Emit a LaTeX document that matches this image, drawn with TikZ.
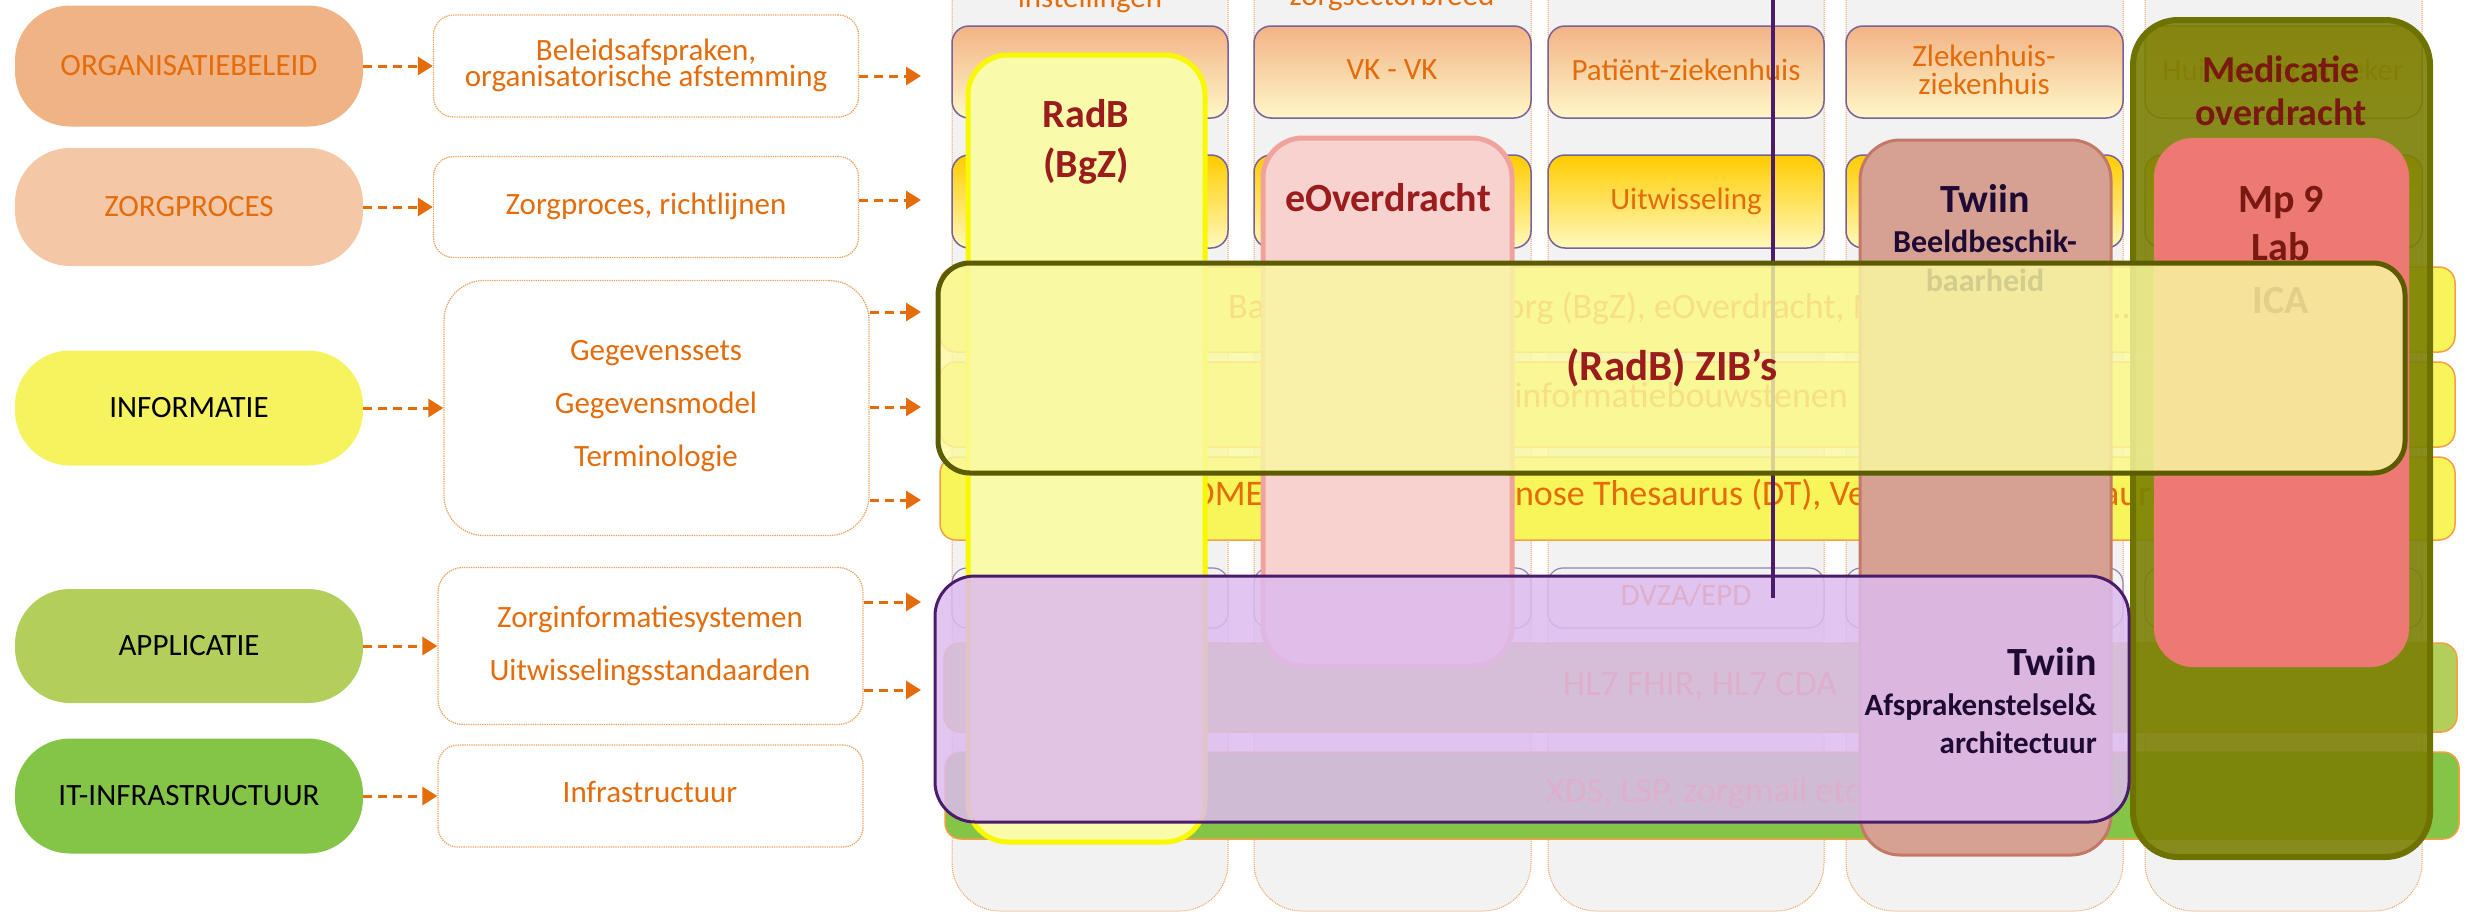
\documentclass[tikz,border=0pt]{standalone}
\usepackage{fontspec}
\setmainfont{Carlito}
\usetikzlibrary{arrows.meta}
\definecolor{otxt}{HTML}{E46C0A}
\definecolor{pillA}{HTML}{F0B385}
\definecolor{pillB}{HTML}{F4C8A6}
\definecolor{pillC}{HTML}{F6F45E}
\definecolor{pillD}{HTML}{B3CF5B}
\definecolor{pillE}{HTML}{84C446}
\definecolor{boxline}{HTML}{F2A25E}
\definecolor{colgrey}{HTML}{F2F2F2}
\definecolor{rowline}{HTML}{7A6299}
\definecolor{rowAtop}{HTML}{F2B385}
\definecolor{rowAbot}{HTML}{FFF7C8}
\definecolor{rowBtop}{HTML}{FFCC00}
\definecolor{rowBbot}{HTML}{FFF9BC}
\definecolor{bandyel}{HTML}{F8F55A}
\definecolor{bandline}{HTML}{F5A040}
\definecolor{radbfill}{HTML}{FAFBAA}
\definecolor{radbline}{HTML}{F8F800}
\definecolor{eofill}{HTML}{F8D2CF}
\definecolor{eoline}{HTML}{F0A39D}
\definecolor{bbfill}{HTML}{D6A193}
\definecolor{bbline}{HTML}{C47868}
\definecolor{medfill}{HTML}{7B8004}
\definecolor{medline}{HTML}{6E7300}
\definecolor{mpfill}{HTML}{EC7A72}
\definecolor{zibfill}{HTML}{FAF9A2}
\definecolor{zibline}{HTML}{5B5B00}
\definecolor{twfill}{HTML}{DDBBEE}
\definecolor{twline}{HTML}{4A1C6A}
\definecolor{darkred}{HTML}{9A1C1C}
\definecolor{medtxt}{HTML}{7A1812}
\definecolor{twtxt}{HTML}{1E0A32}
\definecolor{vline}{HTML}{4B1C6B}
\newcommand{\pxfont}[1]{\fontsize{#1pt}{#1pt}\selectfont}
\tikzset{
  pill/.style={rounded corners=55pt, inner sep=0pt, minimum width=348pt, font=\pxfont{31}},
  mbox/.style={draw=boxline, densely dotted, line width=1.3pt, fill=white, inner sep=0pt, minimum width=425pt},
  mtxt/.style={anchor=base, inner sep=0pt, text=otxt, font=\pxfont{31}},
  darr/.style={draw=otxt, line width=3pt, dash pattern=on 9pt off 6pt, -{Triangle[length=15pt,width=18pt]}},
  colbox/.style={fill=colgrey, draw=boxline, densely dotted, line width=1pt, rounded corners=48pt},
  rowA/.style={draw=rowline, line width=1.5pt, top color=rowAtop, bottom color=rowAbot, rounded corners=17pt},
  rowB/.style={draw=rowline, line width=1.5pt, top color=rowBtop, bottom color=rowBbot, rounded corners=17pt},
  rowC/.style={draw=rowline!80, line width=1.2pt, fill=colgrey, rounded corners=15pt},
  band/.style={draw=bandline, line width=1.5pt, rounded corners=16pt},
  rtxt/.style={anchor=base, inner sep=0pt, text=otxt, font=\pxfont{31}},
  btxt/.style={inner sep=0pt, text=otxt, font=\pxfont{36}},
  ovtitle/.style={anchor=base, inner sep=0pt, text=darkred, font=\bfseries\pxfont{40}},
  ovsub/.style={anchor=base, inner sep=0pt, text=twtxt, font=\bfseries\pxfont{31}},
}
\begin{document}
\begin{tikzpicture}[x=1pt,y=-1pt]
\useasboundingbox (0,0) rectangle (2478,913);
\fill[white] (0,0) rectangle (2478,913);

% ---------- columns ----------
\foreach \a/\b in {952/1228, 1254/1531, 1548/1824, 1846/2123, 2145/2422}
  \draw[colbox] (\a,-60) rectangle (\b,911);
\node[rtxt] (hd1) at (1090,7) {instellingen};
\node[rtxt] (hd2) at (1392,5) {zorgsectorbreed};

% ---------- row boxes ----------
\foreach \a/\b in {952/1228, 1254/1531, 1548/1824, 1846/2123, 2145/2422}{
  \draw[rowA] (\a,26) rectangle (\b,118);
  \draw[rowB] (\a,155) rectangle (\b,248);
  \draw[rowC] (\a,568) rectangle (\b,628);
}
\node[rtxt] (vk) at (1392,79) {VK - VK};
\node[rtxt] (pz) at (1686,80) {Patiënt-ziekenhuis};
\node[rtxt] (zz1) at (1984,66) {Zlekenhuis-};
\node[rtxt] (zz2) at (1984,94) {ziekenhuis};
\node[rtxt] (ha) at (2283,80) {Huisarts-apotheker};
\node[rtxt] (uw) at (1686,209) {Uitwisseling};
\node[rtxt] (dv) at (1686,605) {DVZA/EPD};

% ---------- bands ----------
\draw[band, fill=bandyel] (940,267) rectangle (2455,352);
\draw[band, fill=bandyel] (940,362) rectangle (2455,447);
\draw[band, fill=bandyel] (940,457) rectangle (2455,540);
\draw[band, fill=pillD] (944,643) rectangle (2457,732);
\draw[band, fill=pillE] (945,752) rectangle (2459,839);
\node[btxt, anchor=base west] (ta) at (1228,318) {Basisgegevensset Zorg (BgZ), eOverdracht, Medicatieproces, ...};
\node[btxt, anchor=base east] (tb) at (1848,407) {Zorginformatiebouwstenen};
\node[btxt, anchor=base west] (tc) at (1151,505) {SNOMED CT, LOINC, Diagnose Thesaurus (DT), Verrichtingen Thesaurus};
\node[btxt, anchor=base] (td) at (1700,695) {HL7 FHIR, HL7 CDA};
\node[btxt, anchor=base] (te) at (1703,802) {XDS, LSP, zorgmail etc};

% ---------- vertical overlays ----------
\draw[line width=5pt, draw=radbline, fill=radbfill, rounded corners=40pt] (968,55) rectangle (1205,842);
\node[ovtitle] (radb1) at (1086,127) {RadB};
\node[ovtitle] (radb2) at (1086,177) {(BgZ)};

\draw[line width=5pt, draw=eoline, fill=eofill, rounded corners=40pt] (1263,138) rectangle (1512,666);
\node[ovtitle] (eo) at (1388,211) {eOverdracht};

\draw[line width=3pt, draw=bbline, fill=bbfill, rounded corners=40pt] (1860,140) rectangle (2111,855);
\node[ovtitle, text=twtxt] (bb1) at (1985,212) {Twiin};
\node[ovsub, font=\bfseries\pxfont{32}] (bb2) at (1985,252) {Beeldbeschik-};
\node[ovsub, font=\bfseries\pxfont{32}] (bb3) at (1985,291) {baarheid};

\draw[line width=6pt, draw=medline, fill=medfill, fill opacity=0.9, rounded corners=45pt] (2133,20) rectangle (2430,857);
\node[ovtitle, text=medtxt, font=\bfseries\pxfont{38}] (md1) at (2281,82) {Medicatie};
\node[ovtitle, text=medtxt, font=\bfseries\pxfont{38}] (md2) at (2281,125) {overdracht};

\draw[draw=mpfill, fill=mpfill, rounded corners=40pt] (2154,138) rectangle (2409,667);
\node[ovtitle, text=medtxt] (mp1) at (2281,212) {Mp 9};
\node[ovtitle, text=medtxt] (mp2) at (2281,260) {Lab};
\node[ovtitle, text=medtxt] (mp3) at (2281,313) {ICA};

% ---------- Twiin afsprakenstelsel overlay ----------
\draw[line width=3pt, draw=twline, fill=twfill, fill opacity=0.85, rounded corners=40pt] (935,576) rectangle (2129,822);
\node[ovtitle, anchor=base east, text=twtxt] (tw1) at (2097,675) {Twiin};
\node[ovsub, anchor=base east] (tw2) at (2097,715) {Afsprakenstelsel\&};
\node[ovsub, anchor=base east] (tw3) at (2097,753) {architectuur};

% ---------- vertical line ----------
\coordinate (vtop) at (1773,-5);
\coordinate (vbot) at (1773,598);
\draw[line width=4pt, draw=vline] (vtop) -- (vbot);

% ---------- ZIB overlay ----------
\draw[line width=5pt, draw=zibline, fill=zibfill, fill opacity=0.82, rounded corners=32pt] (938,263) rectangle (2405,473);
\node[ovtitle, font=\bfseries\pxfont{43}] (zib) at (1672,380) {(RadB) ZIB’s};

% ---------- left side ----------
\node[pill, fill=pillA, text=otxt, minimum height=121pt] (p1) at (189,66) {ORGANISATIEBELEID};
\node[pill, fill=pillB, text=otxt, minimum height=118pt] (p2) at (189,207) {ZORGPROCES};
\node[pill, fill=pillC, text=black, minimum height=115pt] (p3) at (189,408) {INFORMATIE};
\node[pill, fill=pillD, text=black, minimum height=114pt] (p4) at (189,646) {APPLICATIE};
\node[pill, fill=pillE, text=black, minimum height=115pt] (p5) at (189,796) {IT-INFRASTRUCTUUR};

\node[mbox, rounded corners=20pt, minimum height=102pt] (b1) at (646,66) {};
\node[mbox, rounded corners=20pt, minimum height=101pt] (b2) at (646,207) {};
\node[mbox, rounded corners=40pt, minimum height=255pt] (b3) at (656.5,408) {};
\node[mbox, rounded corners=25pt, minimum height=157pt] (b4) at (650.5,646) {};
\node[mbox, rounded corners=20pt, minimum height=102pt] (b5) at (650.5,796) {};

\node[mtxt] (t1a) at (646,60) {Beleidsafspraken,};
\node[mtxt] (t1b) at (646,86) {organisatorische afstemming};
\node[mtxt] (t2) at (646,214) {Zorgproces, richtlijnen};
\node[mtxt] (t3a) at (656,360) {Gegevenssets};
\node[mtxt] (t3b) at (656,413) {Gegevensmodel};
\node[mtxt] (t3c) at (656,466) {Terminologie};
\node[mtxt] (t4a) at (650,627) {Zorginformatiesystemen};
\node[mtxt] (t4b) at (650,680) {Uitwisselingsstandaarden};
\node[mtxt] (t5) at (650,802) {Infrastructuur};

\draw[darr] (p1) -- (b1);
\draw[darr] (p2) -- (b2);
\draw[darr] (p3) -- (b3);
\draw[darr] (p4) -- (b4);
\draw[darr] (p5) -- (b5);

\coordinate (r1) at (921,76);
\coordinate (r2) at (921,200);
\coordinate (r3a) at (921,312);
\coordinate (r3b) at (921,407);
\coordinate (r3c) at (921,500);
\coordinate (r4a) at (921,602);
\coordinate (r4b) at (921,690);
\draw[darr] (b1.east |- r1) -- (r1);
\draw[darr] (b2.east |- r2) -- (r2);
\draw[darr] (b3.east |- r3a) -- (r3a);
\draw[darr] (b3.east |- r3b) -- (r3b);
\draw[darr] (b3.east |- r3c) -- (r3c);
\draw[darr] (b4.east |- r4a) -- (r4a);
\draw[darr] (b4.east |- r4b) -- (r4b);
\end{tikzpicture}
\end{document}
